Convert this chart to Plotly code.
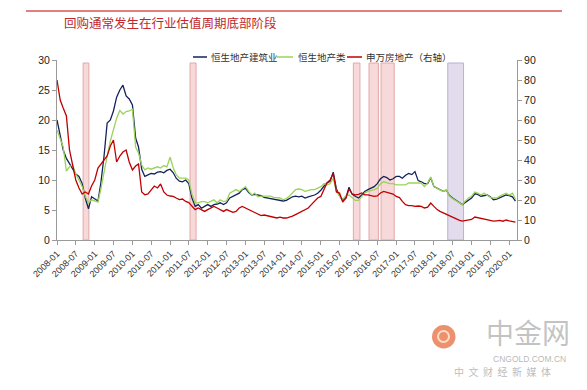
import pandas as pd
import plotly.graph_objects as go

# ---------------- data (monthly, 2008-01 .. 2020-03) ----------------
dates = pd.date_range("2008-01-01", periods=147, freq="MS")

hs_construction = [
    20.0, 17.5, 15.0, 13.6, 12.8, 11.8, 11.0, 10.6, 9.4, 7.0,
    5.2, 7.2, 6.8, 6.5, 9.5, 14.0, 19.5, 20.0, 21.5, 23.8,
    25.0, 25.8, 24.0, 23.5, 22.5, 17.0, 15.5, 11.8, 10.6, 10.8,
    11.1, 11.0, 11.3, 11.4, 11.2, 11.6, 11.8, 11.2, 10.3, 9.8,
    9.7, 10.0, 9.4, 7.0, 5.6, 5.9, 5.3, 5.6, 5.9, 5.6,
    5.9, 6.0, 6.2, 5.9, 6.2, 7.0, 7.3, 7.5, 7.8, 8.4,
    8.6, 7.9, 7.5, 7.6, 7.5, 7.4, 7.1, 7.0, 7.0, 6.8,
    6.7, 6.7, 6.5, 6.6, 6.9, 7.2, 7.3, 7.2, 7.3, 7.0,
    7.2, 7.3, 7.5, 7.8, 8.3, 9.0, 9.5, 9.8, 11.3, 8.5,
    7.4, 6.6, 7.0, 8.8, 7.6, 7.3, 7.0, 7.5, 8.1, 8.4,
    8.6, 8.9, 9.4, 10.2, 10.6, 10.4, 10.0, 10.2, 10.6, 10.6,
    10.3, 10.8, 11.1, 10.9, 11.4, 9.9, 9.7, 9.4, 9.4, 10.4,
    8.9, 8.6, 8.4, 8.1, 8.3, 7.4, 7.0, 6.7, 6.3, 5.9,
    6.3, 6.7, 7.0, 7.7, 7.6, 7.3, 7.4, 7.5, 7.2, 6.7,
    6.8, 7.0, 7.3, 7.5, 7.4, 7.2, 6.5,
]

hs_property = [
    18.3, 17.0, 15.5, 11.5, 12.2, 12.5, 11.0, 10.0, 8.9, 7.3,
    6.2, 6.7, 6.5, 6.3, 8.5, 11.5, 14.0, 16.5, 18.5, 20.3,
    21.6, 21.0, 21.4, 21.5, 21.8, 15.5, 14.5, 12.5, 11.7, 12.0,
    11.8, 12.0, 12.2, 12.0, 12.4, 12.2, 13.8, 12.0, 10.9, 10.3,
    10.3, 10.3, 10.0, 7.6, 6.2, 6.2, 6.4, 6.4, 6.2, 6.4,
    6.7, 6.2, 6.7, 6.4, 6.5, 7.8, 8.1, 8.4, 8.1, 8.5,
    8.9, 8.1, 7.5, 7.8, 7.2, 7.3, 7.3, 7.4, 7.3, 7.1,
    7.0, 7.0, 6.7, 6.9, 7.3, 7.8, 8.4, 8.5, 8.4, 8.1,
    8.3, 8.4, 8.4, 8.6, 8.9, 9.4, 9.2, 9.4, 10.3, 8.1,
    7.3, 6.8, 7.4, 7.5, 7.0, 6.6, 6.6, 7.3, 7.8, 8.1,
    8.2, 8.4, 8.6, 9.4, 9.7, 9.5, 9.4, 9.4, 9.2, 9.2,
    9.2, 9.2, 9.5, 9.5, 9.4, 9.5, 9.5, 8.9, 9.5, 10.5,
    8.9, 8.6, 8.4, 8.1, 8.4, 7.3, 6.9, 6.6, 6.2, 5.9,
    6.5, 7.0, 7.3, 8.0, 7.8, 7.5, 7.8, 7.5, 7.1, 7.0,
    7.0, 7.3, 7.6, 7.8, 7.5, 7.8, 6.8,
]

sw_property = [
    80.0, 70.0, 66.0, 62.0, 45.0, 38.0, 30.0, 26.0, 23.0, 24.0,
    23.0, 27.0, 30.0, 36.0, 38.0, 40.0, 42.0, 47.0, 50.0, 39.0,
    42.0, 44.0, 45.0, 39.0, 35.0, 37.0, 38.0, 24.0, 22.6, 23.0,
    25.0, 27.0, 26.0, 28.0, 24.0, 22.5, 22.0, 21.8, 21.0, 20.2,
    20.5, 19.3, 18.7, 16.8, 15.2, 16.0, 15.2, 14.3, 15.2, 16.0,
    16.8, 16.0, 15.2, 14.3, 15.2, 14.3, 13.8, 14.3, 16.0, 16.8,
    16.0, 15.2, 14.3, 13.5, 12.7, 12.2, 12.5, 12.2, 11.9, 11.5,
    11.0, 11.4, 11.0, 11.0, 11.4, 11.9, 12.7, 13.5, 14.3, 15.2,
    16.0, 17.7, 19.3, 21.0, 21.8, 25.0, 28.5, 30.0, 33.4, 24.0,
    23.5, 19.0, 21.0, 25.5, 23.0, 22.6, 22.8, 23.5, 22.6, 22.6,
    22.2, 21.8, 22.0, 23.5, 24.3, 23.8, 23.5, 23.0, 21.8, 21.2,
    19.3, 17.7, 17.2, 17.2, 16.8, 17.0, 16.8, 16.0, 16.4, 18.5,
    16.8, 15.2, 14.3, 13.5, 12.8, 12.0, 11.2, 10.5, 9.9, 9.4,
    9.7, 10.0, 10.3, 11.5, 11.2, 10.7, 10.5, 10.3, 10.0, 9.4,
    9.6, 9.8, 9.4, 10.0, 9.6, 9.4, 8.9,
]

series_names = ["恒生地产建筑业", "恒生地产类", "申万房地产（右轴）"]
series_colors = ["#13235a", "#9bd35a", "#c00000"]

# shaded buy-back periods (start, end, kind)
bands_start = ["2008-09-10", "2011-07-13", "2015-11-12", "2016-04-12", "2016-08-06", "2018-05-15"]
bands_end = ["2008-11-05", "2011-09-10", "2016-01-15", "2016-07-12", "2016-12-12", "2018-10-15"]
bands_kind = ["pink", "pink", "pink", "pink", "pink", "purple"]

title_text = "回购通常发生在行业估值周期底部阶段"

# ---------------- figure ----------------
W, H = 587, 390
L, R, T, B = 57, 70, 60, 150
pw, ph = W - L - R, H - T - B


def px(xp):
    return (xp - L) / pw


def py(yp):
    return (H - B - yp) / ph


cjk = "Noto Sans CJK SC"
latin = "Liberation Sans, Arial, sans-serif"

fig = go.Figure()
fig.add_trace(go.Scatter(x=dates, y=hs_construction, name=series_names[0], mode="lines",
                         line=dict(color=series_colors[0], width=1.3), yaxis="y"))
fig.add_trace(go.Scatter(x=dates, y=hs_property, name=series_names[1], mode="lines",
                         line=dict(color=series_colors[1], width=1.3), yaxis="y"))
fig.add_trace(go.Scatter(x=dates, y=sw_property, name=series_names[2], mode="lines",
                         line=dict(color=series_colors[2], width=1.3), yaxis="y2"))

shapes = []
for s, e, k in zip(bands_start, bands_end, bands_kind):
    if k == "pink":
        fc, lc = "rgba(244,204,204,0.75)", "#e3a8a8"
    else:
        fc, lc = "rgba(221,214,234,0.85)", "#b9b0d2"
    shapes.append(dict(type="rect", xref="x", yref="y", x0=s, x1=e, y0=0, y1=29.5,
                       fillcolor=fc, line=dict(color=lc, width=1), layer="below"))

# top red rule
shapes.append(dict(type="line", xref="paper", yref="paper", x0=px(26), x1=px(562),
                   y0=py(11), y1=py(11), line=dict(color="#c00000", width=1)))

# manual legend
leg_y = py(57)
leg_items = [(193, 207, 209), (277, 293, 296), (347, 362, 364)]
annotations = []
for (x0, x1, tx), nm, col in zip(leg_items, series_names, series_colors):
    shapes.append(dict(type="line", xref="paper", yref="paper", x0=px(x0), x1=px(x1),
                       y0=leg_y, y1=leg_y, line=dict(color=col, width=1.5)))
    annotations.append(dict(xref="paper", yref="paper", x=px(tx), y=leg_y, text=nm,
                            showarrow=False, xanchor="left", yanchor="middle",
                            font=dict(family=cjk, size=9.5, color="#333333")))

# title
annotations.append(dict(xref="paper", yref="paper", x=px(62), y=py(22), text=title_text,
                        showarrow=False, xanchor="left", yanchor="middle",
                        font=dict(family=cjk, size=12.5, color="#c0282d")))

# watermark
shapes.append(dict(type="circle", xref="paper", yref="paper", x0=px(432), x1=px(455.5),
                   y0=py(348.5), y1=py(325), fillcolor="rgba(234,125,85,0.85)",
                   line=dict(width=0)))
shapes.append(dict(type="circle", xref="paper", yref="paper", x0=px(438), x1=px(449),
                   y0=py(342), y1=py(331), fillcolor="rgba(0,0,0,0)",
                   line=dict(color="rgba(255,225,200,0.95)", width=2)))
annotations.append(dict(xref="paper", yref="paper", x=px(528), y=py(332), text="中金网",
                        showarrow=False, xanchor="center", yanchor="middle",
                        font=dict(family=cjk, size=28, color="rgba(185,185,185,0.85)")))
annotations.append(dict(xref="paper", yref="paper", x=px(529), y=py(359), text="CNGOLD.COM.CN",
                        showarrow=False, xanchor="center", yanchor="middle",
                        font=dict(family=latin, size=8.5, color="rgba(175,175,175,0.9)")))
annotations.append(dict(xref="paper", yref="paper", x=px(502), y=py(371),
                        text="中  文  财  经  新  媒  体",
                        showarrow=False, xanchor="center", yanchor="middle",
                        font=dict(family=cjk, size=10, color="rgba(180,180,180,0.9)")))

axis_col = "#9a9a9a"
fig.update_layout(
    width=W, height=H,
    margin=dict(l=L, r=R, t=T, b=B, pad=0),
    paper_bgcolor="white", plot_bgcolor="white",
    showlegend=False,
    shapes=shapes, annotations=annotations,
    xaxis=dict(
        type="date", range=["2008-01-01", "2020-03-16"],
        tick0="2008-01-01", dtick="M6", tickformat="%Y-%m", tickangle=-45,
        ticks="outside", ticklen=4, tickcolor=axis_col,
        showline=True, linecolor=axis_col, linewidth=1,
        showgrid=False, zeroline=False,
        tickfont=dict(family=latin, size=9, color="#333333"),
    ),
    yaxis=dict(
        range=[0, 30], tickvals=[0, 5, 10, 15, 20, 25, 30],
        ticks="outside", ticklen=4, tickcolor=axis_col,
        showline=True, linecolor=axis_col, linewidth=1,
        showgrid=False, zeroline=False,
        tickfont=dict(family=latin, size=10.5, color="#222222"),
    ),
    yaxis2=dict(
        range=[0, 90], tickvals=list(range(0, 91, 10)), overlaying="y", side="right",
        ticks="outside", ticklen=4, tickcolor=axis_col,
        showline=True, linecolor=axis_col, linewidth=1,
        showgrid=False, zeroline=False,
        tickfont=dict(family=latin, size=10.5, color="#222222"),
    ),
)

fig.write_html("out.html")
